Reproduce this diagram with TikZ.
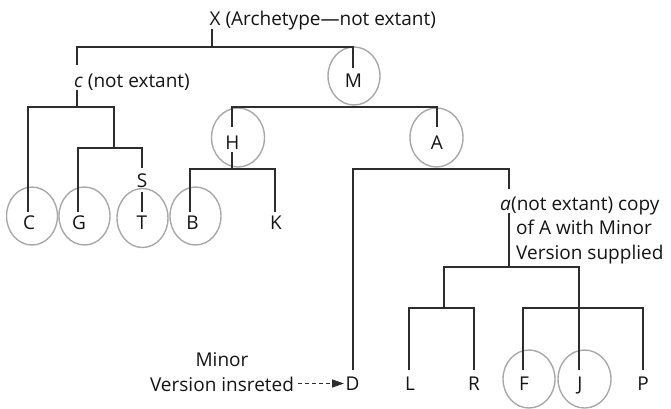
\documentclass[tikz,border=0pt]{standalone}
\usepackage{fontspec}
\setmainfont{Open Sans}
\usetikzlibrary{arrows.meta,shapes.geometric}
\definecolor{linedark}{RGB}{45,45,45}
\definecolor{msgray}{RGB}{168,168,168}
\definecolor{txt}{RGB}{20,20,20}
\begin{document}
\begin{tikzpicture}[x=1pt,y=-1pt,
  lbl/.style={inner sep=0pt,anchor=base,text=txt,font=\fontsize{19}{24.5}\selectfont},
  ms/.style={draw=msgray,line width=1.4pt,ellipse,inner sep=0pt,minimum width=52pt,minimum height=58pt},
  tree/.style={draw=linedark,line width=1.2pt},
  insert/.style={draw=linedark,line width=1.2pt,dash pattern=on 4pt off 3pt,-{Triangle[length=12pt,width=8pt]}}]
\useasboundingbox (0,0) rectangle (671,408);

% manuscript circles
\node[ms] (cM) at (354,76) {};
\node[ms,minimum width=53pt,minimum height=59pt] (cH) at (238,137.5) {};
\node[ms,minimum width=53pt,minimum height=59pt] (cA) at (436.5,137.5) {};
\node[ms,minimum width=51pt] (cC) at (32,216) {};
\node[ms,minimum width=51pt] (cG) at (84.5,216) {};
\node[ms,minimum width=51pt,minimum height=59pt] (cT) at (142.5,218) {};
\node[ms,minimum width=51pt] (cB) at (195.5,216) {};
\node[ms] (cF) at (529,379) {};
\node[ms,minimum width=53pt] (cJ) at (584.5,379) {};

% labels
\node[lbl,anchor=base west] (X) at (209.5,25) {X (Archetype—not extant)};
\node[lbl,anchor=base west] (c) at (74,87) {\textit{c} (not extant)};
\node[lbl] (S) at (142,187) {S};
\node[lbl] (C) at (29,229) {C};
\node[lbl] (G) at (79,229) {G};
\node[lbl] (T) at (142,229) {T};
\node[lbl] (B) at (192.5,229) {B};
\node[lbl] (K) at (276,229) {K};
\node[lbl] (M) at (353.5,87) {M};
\node[lbl] (H) at (232.5,149) {H};
\node[lbl] (A) at (437,149) {A};
\node[lbl,anchor=base west] (a) at (500,210) {\textit{a}};
\node[lbl,anchor=base west,align=left] (adesc) at (511,259) {(not extant) copy\\\hspace*{5pt}of A with Minor\\\hspace*{5pt}Version supplied};
\node[lbl,align=center] (minor) at (222,391) {Minor\\Version insreted};
\node[lbl] (D) at (352.5,390) {D};
\node[lbl] (L) at (410,390) {L};
\node[lbl] (R) at (474,390) {R};
\node[lbl] (F) at (524,390) {F};
\node[lbl] (J) at (580,390) {J};
\node[lbl] (P) at (643,390) {P};

% junction coordinates
\coordinate (xs) at (212,29);   \coordinate (xj) at (212,47);
\coordinate (tr) at (353,47);   \coordinate (Mend) at (353,68);
\coordinate (cu) at (77,65);    \coordinate (cd) at (77,90);  \coordinate (cj) at (77,107);
\coordinate (cr) at (114,107);  \coordinate (gsj) at (114,148);
\coordinate (Cend) at (28,212);
\coordinate (sr) at (142,148);  \coordinate (Gend) at (78,212);
\coordinate (Sup) at (142,168); \coordinate (Ttop) at (142,192); \coordinate (Tend) at (142,212);
\coordinate (mbr) at (437,107); \coordinate (Hup) at (232,127); \coordinate (Aup) at (437,127);
\coordinate (Hdn) at (232,152); \coordinate (hj) at (232,169);
\coordinate (hr) at (275,169);  \coordinate (Bend) at (190,212); \coordinate (Kend) at (275,212);
\coordinate (ar) at (509,169);  \coordinate (Dend) at (353,370);
\coordinate (aup) at (509,189); \coordinate (adn) at (509,213); \coordinate (aj) at (509,267);
\coordinate (abr) at (579,267); \coordinate (lrj) at (444,308);
\coordinate (lrr) at (474,308); \coordinate (Lend) at (409,370); \coordinate (Rend) at (474,370);
\coordinate (fpr) at (643,308); \coordinate (Fend) at (523,370);
\coordinate (Jend) at (579,370); \coordinate (Pend) at (643,370);
\coordinate (arS) at (298,383.5); \coordinate (arE) at (344,383.5);

% tree
\draw[tree] (xs) -- (xj);
\draw[tree] (cu) |- (tr) -- (Mend);
\draw[tree] (cd) -- (cj);
\draw[tree] (Cend) |- (cr) -- (gsj);
\draw[tree] (Gend) |- (sr) -- (Sup);
\draw[tree] (Ttop) -- (Tend);
\draw[tree] (Hup) |- (mbr) -- (Aup);
\draw[tree] (Hdn) -- (hj);
\draw[tree] (Bend) |- (hr) -- (Kend);
\draw[tree] (Dend) |- (ar) -- (aup);
\draw[tree] (adn) -- (aj);
\draw[tree] (lrj) |- (abr) -- (Jend);
\draw[tree] (Lend) |- (lrr) -- (Rend);
\draw[tree] (Fend) |- (fpr) -- (Pend);
\draw[insert] (arS) -- (arE);
\end{tikzpicture}
\end{document}
